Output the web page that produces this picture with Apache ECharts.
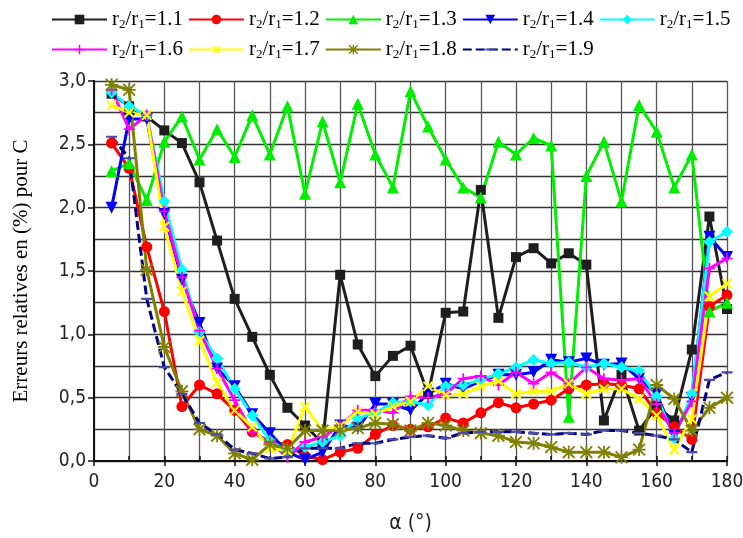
<!DOCTYPE html>
<html>
<head>
<meta charset="utf-8">
<script src="https://cdn.jsdelivr.net/npm/echarts@6/dist/echarts.min.js"></script>
<style>
  html, body { margin: 0; padding: 0; background: #fff; }
  #main { width: 743px; height: 538px; }
</style>
</head>
<body>
<div id="main"></div>
<script>
// angle alpha (deg)
var alpha = [5,10,15,20,25,30,35,40,45,50,55,60,65,70,75,80,85,90,95,100,105,110,115,120,125,130,135,140,145,150,155,160,165,170,175,180];

var ratios = ['1.1','1.2','1.3','1.4','1.5','1.6','1.7','1.8','1.9'];

var err11 = [2.9,2.8,2.72,2.61,2.51,2.2,1.74,1.28,0.98,0.68,0.42,0.28,0.14,1.47,0.92,0.67,0.83,0.91,0.53,1.17,1.18,2.14,1.13,1.61,1.68,1.56,1.64,1.55,0.32,0.68,0.24,0.43,0.32,0.88,1.93,1.2];
var err12 = [2.51,2.31,1.69,1.18,0.43,0.6,0.53,0.4,0.23,0.15,0.13,0.04,0.01,0.07,0.1,0.21,0.28,0.25,0.27,0.34,0.3,0.38,0.46,0.42,0.45,0.48,0.57,0.6,0.61,0.6,0.57,0.38,0.27,0.17,1.22,1.31];
var err13 = [2.29,2.35,2.06,2.52,2.72,2.38,2.62,2.4,2.73,2.42,2.8,2.11,2.68,2.2,2.82,2.42,2.16,2.92,2.64,2.38,2.16,2.08,2.52,2.42,2.55,2.49,0.35,2.25,2.52,2.05,2.81,2.6,2.16,2.42,1.18,1.25];
var err14 = [2.0,2.7,2.7,1.95,1.43,1.09,0.73,0.59,0.37,0.22,0.07,0.01,0.07,0.28,0.26,0.45,0.45,0.4,0.53,0.61,0.57,0.63,0.68,0.68,0.7,0.8,0.78,0.81,0.76,0.77,0.65,0.53,0.2,0.5,1.77,1.61];
var err15 = [2.91,2.8,2.73,2.05,1.51,1.02,0.81,0.57,0.36,0.16,0.08,0.11,0.15,0.2,0.34,0.38,0.46,0.47,0.44,0.59,0.6,0.64,0.69,0.74,0.8,0.77,0.78,0.74,0.77,0.74,0.71,0.51,0.18,0.53,1.73,1.81];
var err16 = [2.93,2.62,2.73,1.97,1.45,1.03,0.73,0.48,0.23,0.15,0.03,0.15,0.19,0.28,0.4,0.4,0.38,0.51,0.5,0.53,0.65,0.67,0.6,0.7,0.61,0.7,0.61,0.74,0.65,0.64,0.65,0.45,0.22,0.47,1.52,1.6];
var err17 = [2.81,2.75,2.73,1.85,1.34,0.95,0.62,0.4,0.27,0.1,0.08,0.43,0.24,0.28,0.39,0.37,0.43,0.47,0.59,0.52,0.53,0.59,0.63,0.53,0.55,0.55,0.61,0.53,0.57,0.57,0.49,0.36,0.09,0.33,1.3,1.4];
var err18 = [2.97,2.93,1.51,0.9,0.55,0.25,0.2,0.06,0.01,0.13,0.1,0.24,0.24,0.24,0.26,0.3,0.29,0.24,0.3,0.28,0.24,0.22,0.2,0.15,0.14,0.11,0.07,0.07,0.07,0.03,0.09,0.6,0.49,0.24,0.42,0.5];
var err19 = [2.56,2.39,1.28,0.74,0.53,0.3,0.21,0.09,0.06,0.02,0.03,0.1,0.1,0.1,0.14,0.14,0.17,0.19,0.2,0.18,0.22,0.23,0.23,0.23,0.22,0.21,0.22,0.21,0.24,0.24,0.22,0.2,0.17,0.07,0.64,0.7];

var allErr = [err11, err12, err13, err14, err15, err16, err17, err18, err19];

var plusPath = 'path://M0,4.2H10V5.8H0Z M4.2,0H5.8V10H4.2Z';
var starPath = 'path://M0,4.3H10V5.7H0Z M4.3,0H5.7V10H4.3Z M1,0L10,9L9,10L0,1Z M9,0L10,1L1,10L0,9Z';
// thin dash, with zero-area points at top and bottom so the box stays square
var dashPath = 'path://M0,4H10V6H0Z M0,0L0.001,0L0,0Z M0,10L0.001,10L0,10Z';

var looks = [
  { color: '#1e1e1e', symbol: 'rect', size: 10 },
  { color: '#ff0000', symbol: 'circle', size: 11 },
  { color: '#00ee00', symbol: 'triangle', size: 12 },
  { color: '#0000ff', symbol: 'triangle', size: 12, rotate: 180 },
  { color: '#00ffff', symbol: 'diamond', size: 12 },
  { color: '#ff00ff', symbol: plusPath, size: 11 },
  { color: '#ffff00', symbol: plusPath, size: 13, rotate: 45 },
  { color: '#808000', symbol: starPath, size: 13 },
  { color: '#000080', symbol: dashPath, size: 11, dash: [9, 4], markColor: '#4a4aa8' }
];

function seriesName(r) { return 'r{s|2}/r{s|1}=' + r; }

var series = ratios.map(function (r, i) {
  var lk = looks[i];
  return {
    name: seriesName(r),
    type: 'line',
    data: alpha.map(function (a, j) { return [a, allErr[i][j]]; }),
    symbol: lk.symbol,
    symbolSize: lk.size,
    symbolRotate: lk.rotate || 0,
    showAllSymbol: true,
    lineStyle: { color: lk.color, width: 3, type: lk.dash || 'solid' },
    itemStyle: { color: lk.markColor || lk.color, borderWidth: 0 },
    emphasis: { disabled: true }
  };
});

var legendText = {
  fontFamily: 'Liberation Serif',
  fontSize: 21,
  color: '#000',
  width: 76,
  rich: {
    s: { fontFamily: 'Liberation Serif', fontSize: 13, padding: [11, 0, 0, 0], color: '#000' }
  }
};

var axisFont = 'Liberation Sans Narrow, DejaVu Sans Condensed, sans-serif';

var chart = echarts.init(document.getElementById('main'));
chart.setOption({
  animation: false,
  backgroundColor: '#fff',
  legend: [{
    data: series.slice(0, 5).map(function (s) { return s.name; }),
    left: 46, top: 4,
    itemWidth: 55, itemHeight: 12, itemGap: 5,
    textStyle: legendText,
    selectedMode: false
  }, {
    data: series.slice(5).map(function (s) { return s.name; }),
    left: 46, top: 34,
    itemWidth: 55, itemHeight: 12, itemGap: 5,
    textStyle: legendText,
    selectedMode: false
  }],
  grid: { left: 94, right: 16, top: 81, bottom: 77, containLabel: false, outerBoundsMode: 'none' },
  xAxis: [{
    type: 'value', min: 0, max: 180, interval: 20,
    name: 'α (°)', nameLocation: 'middle', nameGap: 52,
    nameTextStyle: { fontFamily: axisFont, fontSize: 21, color: '#222' },
    axisLine: { show: true, lineStyle: { color: '#111', width: 2 } },
    axisTick: { show: true, inside: true, length: 5, lineStyle: { color: '#111', width: 1.5 } },
    minorTick: { show: true, splitNumber: 2, length: 5, lineStyle: { color: '#111', width: 1.5 } },
    axisLabel: { fontFamily: axisFont, fontSize: 19, color: '#222', margin: 12 },
    splitLine: { show: true, lineStyle: { color: '#555', width: 1.3 } },
    minorSplitLine: { show: true, lineStyle: { color: '#555', width: 1.3 } }
  }, {
    type: 'value', min: 0, max: 180, interval: 20, position: 'top',
    axisLine: { show: true, lineStyle: { color: '#111', width: 2 } },
    axisTick: { show: true, inside: true, length: 5, lineStyle: { color: '#111', width: 1.5 } },
    axisLabel: { show: false },
    splitLine: { show: false }
  }],
  yAxis: [{
    type: 'value', min: 0, max: 3, interval: 0.5,
    name: 'Erreurs relatives en (%) pour C', nameLocation: 'middle', nameGap: 62,
    nameTextStyle: { fontFamily: 'Liberation Serif', fontSize: 21, color: '#000' },
    axisLine: { show: true, lineStyle: { color: '#111', width: 2 } },
    axisTick: { show: true, inside: false, length: 6, lineStyle: { color: '#111', width: 1.5 } },
    axisLabel: {
      fontFamily: axisFont, fontSize: 19, color: '#222', margin: 8,
      formatter: function (v) { return v.toFixed(1).replace('.', ','); }
    },
    splitLine: { show: true, lineStyle: { color: '#333', width: 1.3 } },
    minorTick: { show: false, splitNumber: 2 },
    minorSplitLine: { show: true, lineStyle: { color: '#333', width: 1.3 } }
  }, {
    type: 'value', min: 0, max: 3, interval: 0.5, position: 'right',
    axisLine: { show: true, lineStyle: { color: '#111', width: 2 } },
    axisTick: { show: true, inside: true, length: 6, lineStyle: { color: '#111', width: 1.5 } },
    axisLabel: { show: false },
    splitLine: { show: false }
  }],
  series: series
});
</script>
</body>
</html>
